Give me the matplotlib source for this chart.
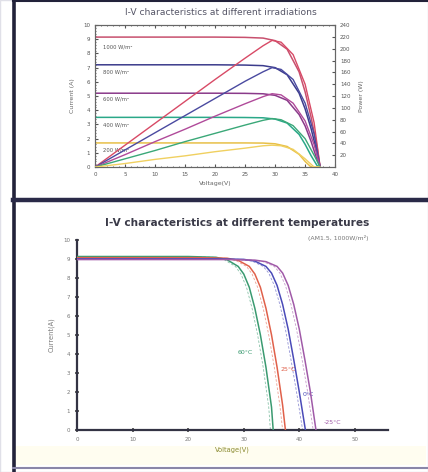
import matplotlib
matplotlib.use("Agg")
import matplotlib.pyplot as plt
from matplotlib.lines import Line2D
from matplotlib.patches import Rectangle

# ---------------- data: irradiation panel ----------------
irr_labels = ["1000 W/m²", "800 W/m²", "600 W/m²", "400 W/m²", "200 W/m²"]
irr_colors = ["#c8506e", "#3c3c8c", "#8a3a8a", "#2aa888", "#e8c048"]
irr_pcolors = ["#d84a66", "#4a4aa0", "#b04a9a", "#3aa878", "#f0d060"]

iv_v = [0, 5, 10, 15, 20, 25, 28, 30, 32, 34, 35, 36, 37, 37.5]
iv_i_1000 = [9.15, 9.15, 9.15, 9.15, 9.15, 9.13, 9.08, 8.9, 8.3, 6.7, 5.3, 3.5, 1.4, 0.0]
iv_i_800 = [7.2, 7.2, 7.2, 7.2, 7.2, 7.18, 7.14, 7.0, 6.5, 5.2, 4.1, 2.7, 1.0, 0.0]
iv_i_600 = [5.2, 5.2, 5.2, 5.2, 5.2, 5.19, 5.16, 5.05, 4.7, 3.7, 2.9, 1.8, 0.5, 0.0]
iv_i_400 = [3.5, 3.5, 3.5, 3.5, 3.5, 3.49, 3.47, 3.38, 3.1, 2.3, 1.6, 0.8, 0.1, 0.0]
iv_i_200 = [1.7, 1.7, 1.7, 1.7, 1.7, 1.7, 1.69, 1.64, 1.45, 0.9, 0.4, 0.0, 0.0, 0.0]

pv_v = [0, 5, 10, 15, 20, 25, 28, 29.5, 31, 33, 35, 36.5, 37.5]
pv_p_1000 = [0, 37, 74, 111, 148, 184, 205, 214, 211, 190, 140, 75, 0]
pv_p_800 = [0, 29, 58, 87, 116, 145, 161, 168, 165, 148, 108, 56, 0]
pv_p_600 = [0, 21, 43, 64, 86, 107, 119, 124, 122, 108, 78, 38, 0]
pv_p_400 = [0, 14, 28, 43, 57, 71, 79, 82, 80, 70, 48, 20, 0]
pv_p_200 = [0, 6, 13, 19, 26, 32, 36, 37, 36, 30, 14, 0, 0]

irr_label_y = [8.45, 6.7, 4.8, 2.95, 1.2]

# ---------------- data: temperature panel ----------------
temp_labels = ["60°C", "25°C", "0°C", "-25°C"]
temp_colors = ["#3a9a70", "#e0604a", "#4a4ab8", "#a05aa8"]
temp_label_pos_v = [30.3, 38.0, 41.6, 46.0]
temp_label_pos_i = [4.05, 3.2, 1.85, 0.4]

t60_v = [0, 20, 25, 27, 29, 30, 31, 32, 33, 34, 35, 35.3]
t60_i = [9.12, 9.12, 9.08, 8.95, 8.6, 8.2, 7.5, 6.4, 5.0, 3.3, 1.2, 0.0]
t25_v = [0, 22, 27, 29, 31, 32, 33, 34, 35, 36, 37, 37.5]
t25_i = [9.06, 9.06, 9.03, 8.92, 8.6, 8.2, 7.5, 6.4, 5.0, 3.3, 1.3, 0.0]
t0_v = [0, 25, 30, 32, 34, 35, 36, 37, 38, 39, 40, 41.1]
t0_i = [9.0, 9.0, 8.97, 8.88, 8.6, 8.25, 7.6, 6.6, 5.3, 3.7, 2.0, 0.0]
tm25_v = [0, 27, 32, 34, 36, 37, 38, 39, 40, 41, 42, 43.0]
tm25_i = [8.96, 8.96, 8.93, 8.85, 8.6, 8.25, 7.6, 6.6, 5.3, 3.7, 2.0, 0.0]

fig = plt.figure(figsize=(4.28, 4.72), dpi=100)
fig.patch.set_facecolor("white")

# frame decorations
fig.add_artist(Rectangle((0.0, 0.0), 1, 1, transform=fig.transFigure, fill=False,
                         edgecolor="#e0e0e8", lw=1.0))
fig.add_artist(Rectangle((0.035, 0.015), 0.96, 0.04, transform=fig.transFigure,
                         facecolor="#fffdf0", edgecolor="none", zorder=0))
fig.add_artist(Line2D([0.032, 0.032], [0.0, 1.0], transform=fig.transFigure,
                      color="#22223a", lw=2.6))
fig.add_artist(Line2D([0.03, 1.0], [0.997, 0.997], transform=fig.transFigure,
                      color="#22223a", lw=1.5))
fig.add_artist(Line2D([0.03, 1.0], [0.577, 0.577], transform=fig.transFigure,
                      color="#2a2a48", lw=3.2))
fig.add_artist(Line2D([0.03, 1.0], [0.008, 0.008], transform=fig.transFigure,
                      color="#8a86a8", lw=1.5))

# ---------------- top panel ----------------
ax = fig.add_axes([0.222, 0.646, 0.561, 0.301])
ax2 = ax.twinx()
iv_sets = [iv_i_1000, iv_i_800, iv_i_600, iv_i_400, iv_i_200]
pv_sets = [pv_p_1000, pv_p_800, pv_p_600, pv_p_400, pv_p_200]
for lab, c, pc, ii, pp, ly in zip(irr_labels, irr_colors, irr_pcolors, iv_sets, pv_sets, irr_label_y):
    ax.plot(iv_v, ii, color=c, lw=1.1, zorder=3)
    ax2.plot(pv_v, pp, color=pc, lw=1.0, zorder=3)
    ax.text(1.3, ly, lab, fontsize=3.8, color="#555555", va="center", ha="left")
ax.set_xlim(0, 40)
ax.set_ylim(0, 10)
ax2.set_ylim(0, 240)
ax.set_xticks(range(0, 41, 5))
ax.set_yticks(range(0, 11))
ax2.set_yticks(range(20, 241, 20))
ax.minorticks_on()
ax.tick_params(which="both", direction="in", top=True, labelsize=4, colors="#555555", length=2)
ax.tick_params(which="minor", length=1)
ax2.tick_params(direction="in", labelsize=4, colors="#555555", length=2)
for sp in list(ax.spines.values()) + list(ax2.spines.values()):
    sp.set_color("#666666")
    sp.set_linewidth(0.8)
ax.set_xlabel("Voltage(V)", fontsize=4.5, color="#666666", labelpad=3)
ax.set_ylabel("Current (A)", fontsize=4.5, color="#666666", labelpad=6)
ax2.set_ylabel("Power (W)", fontsize=4.5, color="#666666", labelpad=6)
fig.text(0.515, 0.973, "I-V characteristics at different irradiations", ha="center",
         va="center", fontsize=6.6, color="#555566")

# ---------------- bottom panel ----------------
bx = fig.add_axes([0.180, 0.089, 0.727, 0.403])
tv = [t60_v, t25_v, t0_v, tm25_v]
ti = [t60_i, t25_i, t0_i, tm25_i]
for lab, c, vv, ii, lx, lyy in zip(temp_labels, temp_colors, tv, ti, temp_label_pos_v, temp_label_pos_i):
    bx.plot(vv, ii, color=c, lw=1.1, zorder=3)
    bx.plot([v - 0.5 for v in vv], ii, color=c, lw=0.6, ls=(0, (3, 2)), alpha=0.6, zorder=2)
    bx.text(lx, lyy, lab, fontsize=4.5, color=c, ha="center", va="center")
bx.set_xlim(0, 56)
bx.set_ylim(0, 10)
bx.set_xticks(range(0, 51, 10))
bx.set_yticks(range(0, 11))
bx.spines["top"].set_visible(False)
bx.spines["right"].set_visible(False)
for s in ["left", "bottom"]:
    bx.spines[s].set_color("#333344")
    bx.spines[s].set_linewidth(1.6)
bx.tick_params(direction="inout", length=3, width=1.2, labelsize=4, colors="#444444",
               labelcolor="#777777")
bx.set_xlabel("Voltage(V)", fontsize=4.8, color="#8a8a30", labelpad=3)
bx.set_ylabel("Current(A)", fontsize=4.8, color="#777777", labelpad=6)
fig.text(0.555, 0.527, "I-V characteristics at different temperatures", ha="center",
         va="center", fontsize=7.6, fontweight="bold", color="#3a3a48")
fig.text(0.79, 0.496, "(AM1.5, 1000W/m²)", ha="center", va="center", fontsize=4.5,
         color="#777777")

fig.savefig("out.png", dpi=100)
